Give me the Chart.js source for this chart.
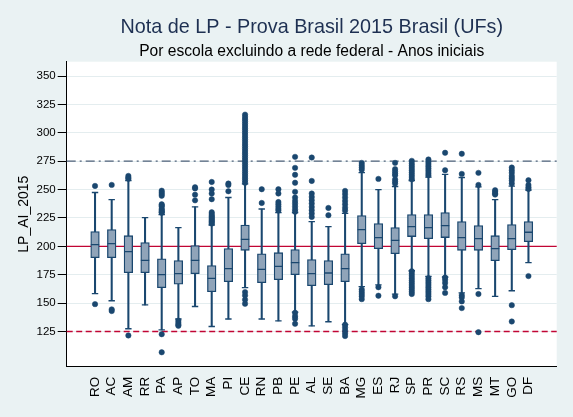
<!DOCTYPE html>
<html>
<head>
<meta charset="utf-8">
<script src="https://cdn.jsdelivr.net/npm/chart.js@4.4.0/dist/chart.umd.min.js"></script>
<style>
  html, body { margin: 0; padding: 0; background: #eaf2f3; }
  #wrap { width: 573px; height: 417px; }
</style>
</head>
<body>
<div id="wrap"><canvas id="boxChart" width="573" height="417"></canvas></div>
<script>
// States (UFs) in plot order
const states = ['RO','AC','AM','RR','PA','AP','TO','MA','PI','CE','RN','PB','PE','AL','SE','BA','MG','ES','RJ','SP','PR','SC','RS','MS','MT','GO','DF'];

// Box plot statistics
const whiskerLow  = [158.3,152.1,127.4,148.5,126.5,136,147,129.4,136,163.6,136,134.4,142,130,133.6,131,164.5,166,158,178.5,173.5,173,159,162.7,155.9,160.9,185.6];
const q1          = [190,190,176.8,176.8,163.6,166.7,175.9,160,168.9,196.5,168,170.6,175,165.3,166.2,168.9,202.4,198,193.5,208.6,206.8,207.7,196.5,196.5,187.4,197.1,204.1];
const median      = [201.5,202.4,195.3,187.6,175,175.9,187.6,171.8,180.3,206.2,179.7,182.4,185.6,175.9,176.5,180.3,214.7,207.7,205.3,217.4,216.5,218.3,207.7,206.8,198,206.8,212.4];
const q3          = [213,214.7,209.4,203.3,189.1,187.4,200.6,183,198,218.8,193.5,194.4,197.1,188.3,187.4,193.5,227.1,220,216.5,228,228,229.7,221.8,218.3,209.4,219.1,221.8];
const whiskerHigh = [247.4,241.2,258,225.3,228,216.5,234.7,218.8,243,255,232.9,229.7,229.7,221.8,217.4,229,265,250,252.7,258,261,263.3,260.6,252.4,241.2,253,249.5];

// Outside values per state
const outliers = [
  [253.2, 149.1],
  [254.1, 144.5, 143],
  [262, 260.5, 259.5, 121.5],
  [],
  [249, 247.5, 246, 244.5, 237, 236, 235, 233, 232, 231, 230, 229.5, 122.6, 106.7],
  [134.5, 132.6, 131, 130],
  [252, 251, 245.5, 240.5],
  [256.7, 250, 246.5, 241.5, 230, 228.5, 227, 226, 225, 224, 223, 222, 221, 220],
  [255.3, 254, 248.5],
  [316, 314, 312, 310, 308, 306, 304, 302, 300, 298, 296, 294, 292, 290, 288, 286, 284, 282, 280, 278, 276, 274, 272, 270, 268, 266, 264, 262, 260, 258, 256, 159.7, 156.8, 153, 149.4],
  [250.3, 238.2],
  [250.3, 246.5, 239, 237, 235, 233, 231.5],
  [278.8, 269.1, 263, 256, 248, 243, 240, 237.5, 235, 232.5, 230.5, 141.5, 138.5, 136.2, 131.8],
  [278.2, 257.6, 246.5, 243.5, 240.6, 237.7, 234.7, 231.8, 228.9, 225.9],
  [233.8, 227.4],
  [248.8, 246, 243, 240, 237, 234, 231.5, 131, 128.5, 126, 123.5, 121],
  [273.5, 271.5, 269.5, 267.5, 162, 160, 158, 156, 153.5],
  [259.4, 164, 156.5],
  [273.5, 268, 266, 264, 262.5, 259, 257, 255.3, 156],
  [275.3, 273, 271, 269, 267, 265, 263, 261, 259, 178, 176, 174, 172, 170, 168, 166, 164, 162, 160, 158],
  [276.5, 274.5, 272.5, 270.5, 268.5, 266.5, 264.5, 262.7, 172, 170, 168, 166, 164, 162, 160, 158, 156, 153.5],
  [282.4, 267, 172.5, 170.5, 167.8, 164, 159],
  [281.5, 263.8, 157, 155, 151.5, 145.6],
  [264.7, 254.1, 158, 124.4],
  [249.4, 248, 246.5, 245.6],
  [269.4, 267, 264.7, 262, 260, 258, 255.3, 148.2, 133.8],
  [258.2, 254, 252, 250.5, 173.8]
];

const yTicks = [125, 150, 175, 200, 225, 250, 275, 300, 325, 350];
const refValues = [275, 200, 125];

const navy = '#1a476f';
const refStyles = {
    275: { color: '#4d6079', dash: [9, 4, 2, 4] },
    200: { color: '#c10534', dash: [] },
    125: { color: '#c10534', dash: [6, 3.5] }
};

// background + plot region
const backgroundPlugin = {
    id: 'stataBackground',
    beforeDraw(chart) {
        const { ctx, chartArea } = chart;
        ctx.save();
        ctx.fillStyle = '#eaf2f3';
        ctx.fillRect(0, 0, chart.width, chart.height);
        ctx.fillStyle = '#ffffff';
        ctx.fillRect(chartArea.left, chartArea.top, chartArea.right - chartArea.left, chartArea.bottom - chartArea.top);
        ctx.restore();
    }
};

// reference lines behind the boxes
const refLinePlugin = {
    id: 'refLines',
    beforeDatasetsDraw(chart) {
        const { ctx, chartArea, scales } = chart;
        ctx.save();
        refValues.forEach(v => {
            const y = scales.y.getPixelForValue(v);
            ctx.strokeStyle = refStyles[v].color;
            ctx.setLineDash(refStyles[v].dash);
            ctx.lineWidth = 1.3;
            ctx.beginPath();
            ctx.moveTo(chartArea.left, y);
            ctx.lineTo(chartArea.right, y);
            ctx.stroke();
        });
        ctx.restore();
    }
};

// titles centred over the plot region
const titlePlugin = {
    id: 'stataTitles',
    afterDraw(chart) {
        const { ctx, chartArea } = chart;
        const cx = (chartArea.left + chartArea.right) / 2;
        ctx.save();
        ctx.textAlign = 'center';
        ctx.textBaseline = 'alphabetic';
        ctx.fillStyle = '#1e3052';
        ctx.font = '19.8px "Liberation Sans", Arial, sans-serif';
        ctx.fillText('Nota de LP - Prova Brasil 2015 Brasil (UFs)', cx, 33.3);
        ctx.fillStyle = '#000000';
        ctx.font = '15.6px "Liberation Sans", Arial, sans-serif';
        ctx.fillText('Por escola excluindo a rede federal - Anos iniciais', cx, 55.5);
        ctx.restore();
    }
};

const capPoints = [];
states.forEach((s, i) => {
    capPoints.push({ x: i, y: whiskerLow[i] });
    capPoints.push({ x: i, y: whiskerHigh[i] });
});
const outlierPoints = [];
outliers.forEach((list, i) => list.forEach(v => outlierPoints.push({ x: i, y: v })));

const ctx = document.getElementById('boxChart').getContext('2d');
const boxChart = new Chart(ctx, {
    type: 'bar',
    data: {
        datasets: [
            {
                label: 'whiskers',
                data: states.map((s, i) => ({ x: i, y: [whiskerLow[i], whiskerHigh[i]] })),
                backgroundColor: navy,
                barThickness: 1.4,
                grouped: false,
                order: 5
            },
            {
                label: 'boxes',
                data: states.map((s, i) => ({ x: i, y: [q1[i], q3[i]] })),
                backgroundColor: '#90a4b9',
                borderColor: navy,
                borderWidth: 1.3,
                borderSkipped: false,
                barThickness: 8.6,
                grouped: false,
                order: 4
            },
            {
                type: 'scatter',
                label: 'medians',
                data: states.map((s, i) => ({ x: i, y: median[i] })),
                pointStyle: 'line',
                radius: 4.2,
                borderColor: navy,
                borderWidth: 1.3,
                order: 3
            },
            {
                type: 'scatter',
                label: 'caps',
                data: capPoints,
                pointStyle: 'line',
                radius: 3.2,
                borderColor: navy,
                borderWidth: 1.3,
                order: 2
            },
            {
                type: 'scatter',
                label: 'outside values',
                data: outlierPoints,
                pointStyle: 'circle',
                radius: 2.7,
                backgroundColor: navy,
                borderColor: navy,
                borderWidth: 0.5,
                order: 1
            }
        ]
    },
    options: {
        responsive: false,
        animation: false,
        devicePixelRatio: 1,
        events: [],
        layout: { padding: { top: 61.7, right: 16.3, bottom: 0, left: 0 } },
        plugins: {
            legend: { display: false },
            tooltip: { enabled: false },
            title: { display: false }
        },
        scales: {
            x: {
                type: 'linear',
                min: -1.155,
                max: 27.15,
                afterBuildTicks(scale) {
                    scale.ticks = states.map((s, i) => ({ value: i }));
                },
                afterFit(scale) { scale.height = 50.3; },
                ticks: {
                    callback: v => states[v],
                    autoSkip: false,
                    minRotation: 90,
                    maxRotation: 90,
                    padding: 2,
                    color: '#000',
                    font: { family: '"Liberation Sans", Arial, sans-serif', size: 13.5 }
                },
                grid: { display: false },
                border: { color: '#000', width: 1 }
            },
            y: {
                min: 94,
                max: 362.6,
                afterBuildTicks(scale) {
                    scale.ticks = yTicks.map(v => ({ value: v }));
                },
                afterFit(scale) { scale.width = 66.7; },
                ticks: {
                    padding: 2,
                    color: '#000',
                    font: { family: '"Liberation Sans", Arial, sans-serif', size: 11.5 }
                },
                grid: { color: '#e4edef', tickColor: '#000', tickLength: 9, lineWidth: 1 },
                border: { color: '#000', width: 1 },
                title: {
                    display: true,
                    text: 'LP_AI_2015',
                    color: '#000',
                    padding: { top: 16, bottom: 0 },
                    font: { family: '"Liberation Sans", Arial, sans-serif', size: 14 }
                }
            }
        }
    },
    plugins: [backgroundPlugin, refLinePlugin, titlePlugin]
});
</script>
</body>
</html>
